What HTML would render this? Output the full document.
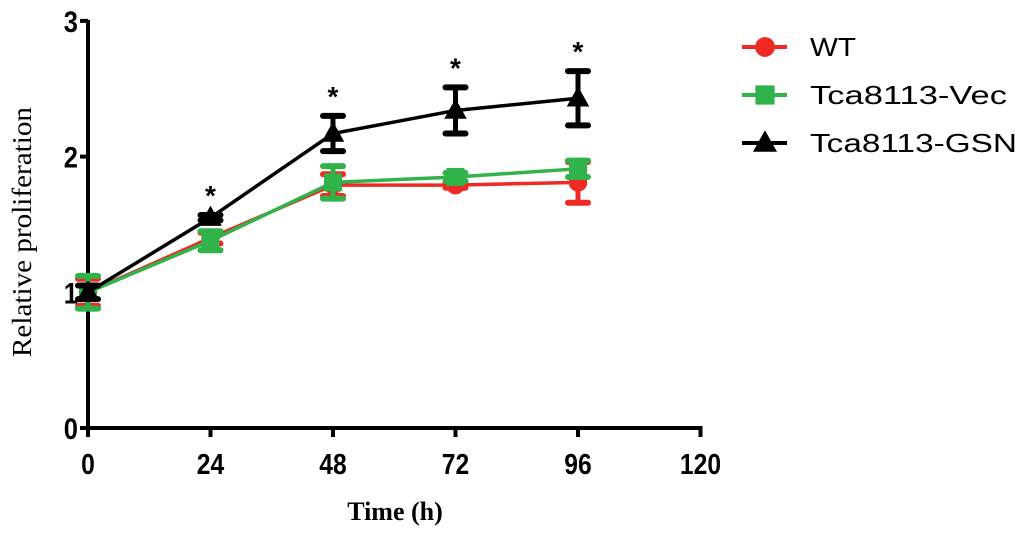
<!DOCTYPE html>
<html><head><meta charset="utf-8"><style>
body{margin:0;background:#fff;width:1033px;height:545px;overflow:hidden}
svg{display:block}
</style></head><body>
<svg id="c" width="1033" height="545" xmlns="http://www.w3.org/2000/svg"></svg>
<script>
const xTicks=[0,24,48,72,96,120];
const yTicks=[0,1,2,3];
const times=[0,24,48,72,96];
const wtVals=[1.0,1.40,1.79,1.79,1.81];
const wtErr=[0.1,0.04,0.08,0.02,0.15];
const vecVals=[1.0,1.38,1.81,1.85,1.91];
const vecErr=[0.12,0.07,0.12,0.03,0.06];
const gsnVals=[1.0,1.55,2.17,2.34,2.43];
const gsnErr=[0.05,0.02,0.13,0.17,0.2];
const sigStars=["","*","*","*","*"];
const NS="http://www.w3.org/2000/svg";
const svg=document.getElementById('c');
const X=v=>88+v*(490/96);
const Y=v=>428-v*135.7;
function el(t,a,p){const e=document.createElementNS(NS,t);for(const k in a)e.setAttribute(k,a[k]);(p||svg).appendChild(e);return e;}
const ax=el('g',{});


el('line',{x1:X(0),y1:Y(3)-1,x2:X(0),y2:Y(0)+2,stroke:'#000','stroke-width':4},ax);
el('line',{x1:X(0)-2,y1:Y(0),x2:X(120)+2,y2:Y(0),stroke:'#000','stroke-width':4},ax);
yTicks.forEach(v=>{
 el('line',{x1:X(0)-8,y1:Y(v),x2:X(0),y2:Y(v),stroke:'#000','stroke-width':4},ax);
 const t=el('text',{x:X(0)-10,y:Y(v)+11,'text-anchor':'end','font-family':'Liberation Sans, sans-serif','font-weight':'bold','font-size':30,transform:`translate(${X(0)-10},0) scale(0.85,1) translate(${-(X(0)-10)},0)`},ax);
 
 
 t.textContent=v;
});
xTicks.forEach(v=>{
 el('line',{x1:X(v),y1:Y(0),x2:X(v),y2:Y(0)+9,stroke:'#000','stroke-width':4},ax);
 const t=el('text',{x:X(v),y:Y(0)+46,'text-anchor':'middle','font-family':'Liberation Sans, sans-serif','font-weight':'bold','font-size':29,transform:`translate(${X(v)},0) scale(0.85,1) translate(${-X(v)},0)`},ax);
 
 
 t.textContent=v;
});
const yt=el('text',{x:0,y:0,transform:'translate(31,232) rotate(-90)','text-anchor':'middle','font-family':'Liberation Serif, serif','font-size':27,textLength:250,lengthAdjust:'spacingAndGlyphs'});


yt.textContent='Relative proliferation';
const xt=el('text',{x:395,y:520,'text-anchor':'middle','font-family':'Liberation Serif, serif','font-weight':'bold','font-size':26});


xt.textContent='Time (h)';
function marker(g,type,x,y,c,s){
 if(type==='circle')el('circle',{cx:x,cy:y,r:s*0.62,fill:c},g);
 else if(type==='square')el('rect',{x:x-s*0.6,y:y-s*0.6,width:s*1.2,height:s*1.2,fill:c},g);
 else el('polygon',{points:`${x},${y-s*0.8} ${x-s*0.75},${y+s*0.55} ${x+s*0.75},${y+s*0.55}`,fill:c},g);
}
function series(name,vals,errs,c,type){
 const g=el('g',{});
 
 
 el('polyline',{points:times.map((t,i)=>X(t)+','+Y(vals[i])).join(' '),fill:'none',stroke:c,'stroke-width':3.5},g);
 times.forEach((t,i)=>{
  const x=X(t),y1=Y(vals[i]+errs[i]),y2=Y(vals[i]-errs[i]);
  el('line',{x1:x,y1:y1,x2:x,y2:y2,stroke:c,'stroke-width':5},g);
  el('line',{x1:x-10,y1:y1,x2:x+10,y2:y1,stroke:c,'stroke-width':6,'stroke-linecap':'round'},g);
  el('line',{x1:x-10,y1:y2,x2:x+10,y2:y2,stroke:c,'stroke-width':6,'stroke-linecap':'round'},g);
  marker(g,type,x,Y(vals[i]),c,15);
 });
}
series('series-wt',wtVals,wtErr,'#ee2a24','circle');
series('series-vec',vecVals,vecErr,'#2fb34a','square');
series('series-gsn',gsnVals,gsnErr,'#000','triangle');
times.forEach((t,i)=>{
 if(!sigStars[i])return;
 const s=el('text',{x:X(t),y:Y(gsnVals[i]+gsnErr[i])-10,'text-anchor':'middle','font-family':'Liberation Sans, sans-serif','font-weight':'bold','font-size':28});
 
 
 s.textContent=sigStars[i];
});
const leg=[['WT','#ee2a24','circle',46],['Tca8113-Vec','#2fb34a','square',197],['Tca8113-GSN','#000','triangle',207]];
leg.forEach((l,i)=>{
 const g=el('g',{});
 
 
 const y=47+i*48;
 el('line',{x1:742,y1:y,x2:787,y2:y,stroke:l[1],'stroke-width':4},g);
 marker(g,l[2],765,y,l[1],16);
 const t=el('text',{x:810,y:y+9,'font-family':'Liberation Sans, sans-serif','font-size':26,textLength:l[3],lengthAdjust:'spacingAndGlyphs'},g);
 t.textContent=l[0];
});
</script>
</body></html>
